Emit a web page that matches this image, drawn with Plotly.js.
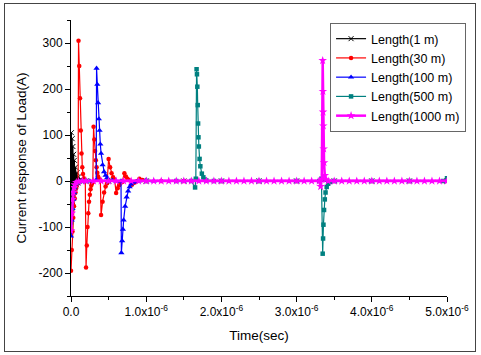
<!DOCTYPE html>
<html><head><meta charset="utf-8">
<script src="https://cdn.plot.ly/plotly-3.0.1.min.js"></script>
<style>
html,body{margin:0;padding:0;background:#fff;overflow:hidden}
#wrap{position:relative;width:481px;height:355px}
#chart{width:481px;height:355px}
#frame{position:absolute;left:4px;top:3px;width:470px;height:347px;border:1.5px solid #444;pointer-events:none}
</style>
</head><body>
<div id="wrap"><div id="chart"></div><div id="frame"></div></div>
<script>
// time in microseconds (axis labelled in seconds x10^-6), current in A
const seriesNames = ['Length(1 m)', 'Length(30 m)', 'Length(100 m)', 'Length(500 m)', 'Length(1000 m)'];

const t1 = [0,0.005,0.01,0.015,0.02,0.025,0.03,0.035,0.04,0.045,0.05,0.06,0.07,0.08,0.09,0.1,0.12,0.15,0.2,0.5,1,1.5,2,2.5,3,3.5,4,4.5,5];
const i1 = [0,105,-60,92,-45,75,-35,58,-25,45,-15,30,-8,18,-4,9,2,0,0,0,0,0,0,0,0,0,0,0,0];

const t30 = [0,0.01,0.02,0.03,0.04,0.05,0.06,0.07,0.08,0.095,
  0.1,0.11,0.12,0.13,0.14,0.15,0.16,0.17,0.18,0.19,
  0.2,0.21,0.22,0.23,0.24,0.25,0.26,0.27,0.28,0.29,
  0.3,0.31,0.32,0.33,0.34,0.35,0.36,0.37,0.39,
  0.4,0.42,0.44,0.46,0.48,
  0.5,0.52,0.54,0.56,0.58,
  0.6,0.62,0.64,0.66,0.68,
  0.71,0.73,0.75,0.77,
  0.81,0.84,0.87,
  0.91,0.95,
  1.0,1.2,1.5,2,2.5,3,3.5,4,4.5,5];
const i30 = [-195,-150,-110,-80,-55,-38,-25,-15,-8,-4,
  305,250,180,110,60,30,15,6,2,1,
  -188,-140,-100,-70,-45,-30,-18,-10,-5,-2,
  118,90,65,45,30,18,10,5,2,
  -74,-45,-25,-12,-5,
  48,30,17,8,3,
  -26,-16,-9,-4,-2,
  17,10,5,2,
  -8,-4,-1,
  5,2,
  0,0,0,0,0,0,0,0,0,0];

const t100 = [0,0.01,0.02,0.03,0.04,0.05,
  0.07,0.1,0.15,0.25,0.335,
  0.34,0.35,0.36,0.37,0.38,0.39,0.4,
  0.42,0.44,0.46,0.48,0.5,0.55,0.6,0.665,
  0.67,0.68,0.69,0.7,
  0.72,0.74,0.76,0.78,0.8,
  0.83,0.87,0.9,1.0,1.1,
  1.5,2,2.5,3,3.5,4,4.5,5];
const i100 = [-120,-85,-60,-40,-25,-15,
  -6,-2,0,0,2,
  245,210,170,135,110,80,60,
  35,20,12,7,3,1,0,0,
  -156,-130,-105,-85,
  -55,-35,-22,-13,-7,
  -3,-1,0,2,0,
  0,0,0,0,0,0,0,0];

const t500 = [0,0.01,0.02,0.03,0.05,0.08,0.12,0.2,
  0.5,1.0,1.4,1.6,
  1.65,1.66,1.67,1.675,1.68,1.685,1.69,1.695,1.7,
  1.71,1.72,1.74,1.76,1.78,1.8,1.9,2.0,
  2.5,3.0,3.3,3.33,
  3.347,3.352,3.357,3.365,3.375,3.385,3.4,3.42,3.45,3.5,
  4.0,4.5,4.95,5.0];
const i500 = [-90,-60,-40,-25,-12,-4,-1,0,
  0,0,0,0,
  -14,5,243,232,205,165,125,95,75,
  48,32,16,8,3,1,0,0,
  0,0,0,5,
  -158,-125,-95,-63,-40,-25,-13,-6,-2,0,
  0,0,0,6];

const t1000 = [0,0.01,0.02,0.03,0.04,0.05,0.07,0.1,
  0.15,0.2,0.3,0.4,0.5,0.6,0.7,0.8,0.9,1.0,1.1,1.2,1.3,1.4,1.5,1.6,1.7,1.8,1.9,2.0,
  2.1,2.2,2.3,2.4,2.5,2.6,2.7,2.8,2.9,3.0,3.1,3.2,3.3,
  3.32,3.335,3.347,3.35,3.352,3.355,3.36,3.365,3.375,3.39,3.42,
  3.5,3.6,3.7,3.8,3.9,4.0,4.1,4.2,4.3,4.4,4.5,4.6,4.7,4.8,4.9,5.0];
const i1000 = [-108,-70,-40,-25,-14,-8,-3,-1,
  0,0,0,0,0,0,0,0,0,0,0,0,0,0,0,0,0,0,0,0,
  0,0,0,0,0,0,0,0,0,0,0,0,0,
  -12,4,262,195,150,120,70,40,12,3,0,
  0,0,0,0,0,0,0,0,0,0,0,0,0,0,0,0];

const xTickVals = [0,1,2,3,4,5];
const xTickText = ['0.0','1.0x10<sup>-6</sup>','2.0x10<sup>-6</sup>','3.0x10<sup>-6</sup>','4.0x10<sup>-6</sup>','5.0x10<sup>-6</sup>'];
const yTickVals = [-200,-100,0,100,200,300];
const yTickText = ['-200','-100','0','100','200','300'];

const colors = ['#000000','#ff0000','#0000ff','#008080','#ff00ff'];
const symbols = ['x-thin-open','circle','triangle-up','square','star'];
const sizes = [5,4.5,5.5,4.5,6.5];
const xs = [t1,t30,t100,t500,t1000];
const ys = [i1,i30,i100,i500,i1000];

const traces = seriesNames.map((name,k)=>({
  type:'scatter', mode:'lines+markers', name:name,
  x: xs[k], y: ys[k],
  line:{color:colors[k], width: k===4 ? 2.5 : 1.2},
  marker:{color:colors[k], symbol:symbols[k], size:sizes[k], line:{color:colors[k], width: k===0?1:0}},
  cliponaxis:true
}));

const font = 'Liberation Sans, Arial, sans-serif';
const layout = {
  width:481, height:355, autosize:false,
  margin:{l:71, r:34, t:20, b:59, pad:0, autoexpand:false},
  paper_bgcolor:'#fff', plot_bgcolor:'#fff',
  font:{family:font, size:12, color:'#000'},
  showlegend:true,
  legend:{x:0.689, y:0.989, xanchor:'left', yanchor:'top', bgcolor:'#fff',
    bordercolor:'#666', borderwidth:1, font:{family:font, size:12.5, color:'#000'},
    tracegroupgap:0},
  xaxis:{range:[0,5], automargin:false, showgrid:false, zeroline:false, showline:true, linecolor:'#000', linewidth:1,
    ticks:'outside', ticklen:5, tickcolor:'#000', tickmode:'array', tickvals:xTickVals, ticktext:xTickText,
    minor:{tickmode:'linear', tick0:0, dtick:0.5, ticks:'outside', ticklen:3, tickcolor:'#000', showgrid:false},
    tickfont:{size:12}, title:{text:'Time(sec)', font:{size:13.5}, standoff:12}},
  yaxis:{range:[-250,350], automargin:false, showgrid:false, zeroline:false, showline:true, linecolor:'#000', linewidth:1,
    ticks:'outside', ticklen:5, tickcolor:'#000', tickmode:'array', tickvals:yTickVals, ticktext:yTickText,
    minor:{tickmode:'linear', tick0:0, dtick:50, ticks:'outside', ticklen:3, tickcolor:'#000', showgrid:false},
    tickfont:{size:12}, title:{text:'Current response of Load(A)', font:{size:13.5}, standoff:8}}
};
Plotly.newPlot('chart', traces, layout, {displayModeBar:false, staticPlot:true});
</script>
</body></html>
